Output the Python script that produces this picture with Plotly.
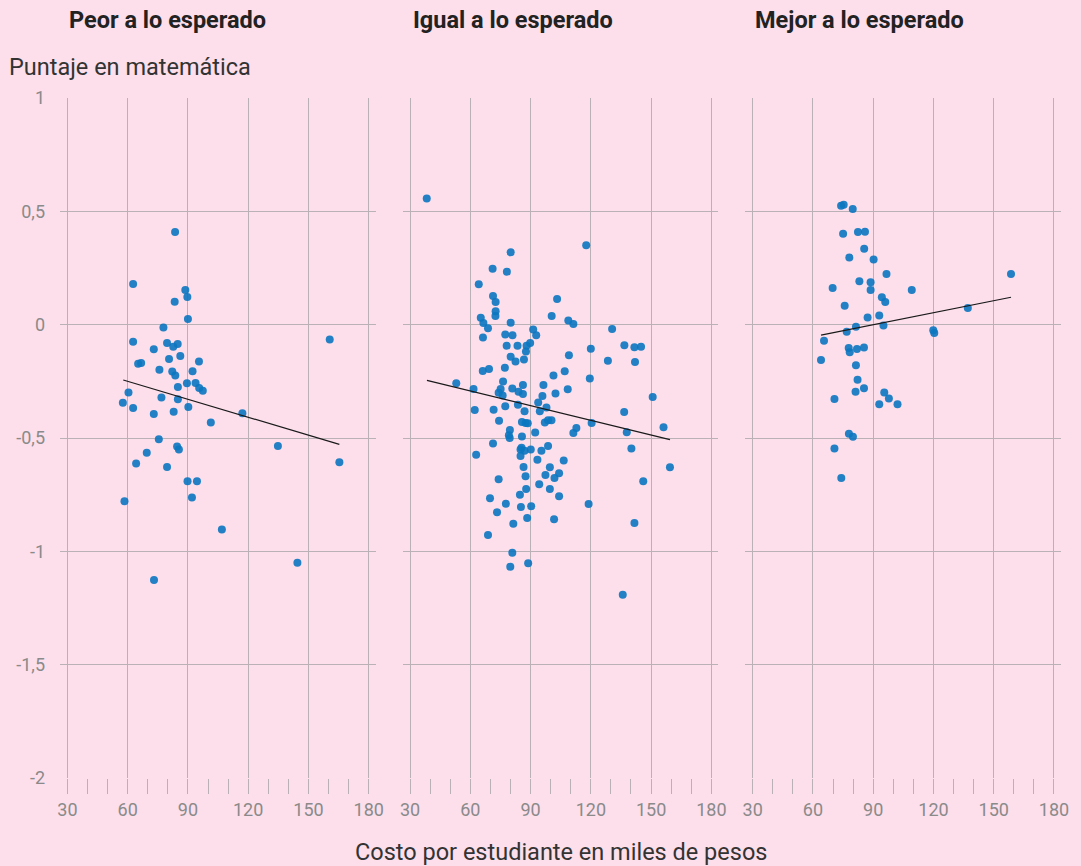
import plotly.graph_objects as go

# Panel titles
panel_titles = ["Peor a lo esperado", "Igual a lo esperado", "Mejor a lo esperado"]

# Peor a lo esperado
peor_x = [83.6, 62.7, 88.7, 89.7, 83.4, 90.0, 77.8, 62.7, 79.6, 84.9, 82.7, 73.0, 86.2,
          80.6, 65.2, 66.7, 95.5, 75.8, 82.2, 83.7, 92.3, 89.5, 93.8, 95.6, 97.4, 85.0,
          60.4, 57.6, 62.7, 76.8, 85.0, 90.2, 73.0, 82.9, 117.1, 101.4, 75.5, 84.6, 85.5,
          69.5, 134.8, 64.2, 79.6, 89.8, 94.5, 92.0, 58.4, 106.9, 144.5, 73.1, 160.6, 165.4]
peor_y = [0.409, 0.179, 0.153, 0.122, 0.101, 0.025, -0.012, -0.075, -0.081, -0.085, -0.097,
          -0.109, -0.138, -0.151, -0.172, -0.169, -0.163, -0.199, -0.207, -0.224, -0.206,
          -0.259, -0.257, -0.279, -0.291, -0.275, -0.299, -0.344, -0.368, -0.321, -0.329,
          -0.363, -0.394, -0.384, -0.391, -0.432, -0.506, -0.537, -0.551, -0.565, -0.535,
          -0.612, -0.628, -0.691, -0.691, -0.762, -0.779, -0.904, -1.050, -1.126, -0.065, -0.607]
peor_trend_x = [57.8, 165.4]
peor_trend_y = [-0.244, -0.528]

# Igual a lo esperado
igual_x = [38.3, 117.7, 80.1, 71.1, 78.2, 64.2, 71.3, 72.6, 103.2, 72.6, 72.5, 65.2, 66.5,
           100.5, 108.8, 111.3, 80.1, 68.8, 91.3, 130.6, 66.3, 77.4, 81.0, 92.8, 78.1, 83.5,
           88.0, 89.8, 87.7, 136.7, 141.7, 145.0, 120.0, 80.1, 82.5, 86.7, 109.1, 128.5,
           142.0, 66.2, 69.3, 77.2, 107.0, 101.4, 119.5, 53.0, 61.6, 76.3, 75.1, 74.1, 76.1,
           80.9, 86.2, 84.0, 86.2, 96.4, 95.9, 102.4, 108.5, 150.8, 62.2, 71.6, 77.4, 83.7,
           87.0, 93.8, 94.6, 97.9, 136.6, 74.3, 85.7, 88.6, 87.5, 97.1, 98.7, 100.4, 120.4,
           112.8, 111.3, 137.9, 156.2, 79.7, 79.2, 79.6, 85.7, 92.3, 71.3, 62.9, 85.0, 85.5,
           87.0, 85.0, 90.1, 95.4, 98.7, 93.4, 140.2, 106.5, 86.5, 99.6, 97.4, 101.9, 104.2,
           87.5, 74.1, 159.4, 146.1, 87.8, 94.3, 99.6, 84.7, 69.8, 77.7, 85.2, 90.3, 104.2,
           73.3, 118.9, 88.3, 101.7, 141.7, 81.4, 68.8, 80.9, 79.9, 88.8, 135.9]
igual_y = [0.557, 0.350, 0.319, 0.247, 0.234, 0.178, 0.126, 0.100, 0.113, 0.059, 0.038,
           0.031, 0.007, 0.038, 0.018, 0.003, 0.009, -0.016, -0.021, -0.019, -0.057, -0.043,
           -0.047, -0.047, -0.093, -0.093, -0.093, -0.081, -0.118, -0.091, -0.100, -0.097,
           -0.106, -0.141, -0.162, -0.154, -0.135, -0.159, -0.165, -0.204, -0.196, -0.190,
           -0.206, -0.224, -0.238, -0.259, -0.284, -0.251, -0.284, -0.300, -0.312, -0.282,
           -0.266, -0.296, -0.306, -0.266, -0.315, -0.304, -0.285, -0.319, -0.376, -0.375,
           -0.360, -0.353, -0.382, -0.343, -0.382, -0.365, -0.385, -0.424, -0.429, -0.435,
           -0.434, -0.432, -0.422, -0.422, -0.434, -0.456, -0.478, -0.475, -0.453, -0.465,
           -0.488, -0.500, -0.493, -0.476, -0.524, -0.574, -0.551, -0.543, -0.556, -0.579,
           -0.551, -0.556, -0.535, -0.596, -0.546, -0.599, -0.628, -0.629, -0.663, -0.676,
           -0.656, -0.669, -0.682, -0.629, -0.691, -0.725, -0.704, -0.725, -0.750, -0.766,
           -0.790, -0.804, -0.801, -0.757, -0.828, -0.791, -0.853, -0.859, -0.875, -0.878,
           -0.928, -1.006, -1.068, -1.053, -1.191]
igual_trend_x = [38.4, 159.4]
igual_trend_y = [-0.246, -0.507]

# Mejor a lo esperado
mejor_x = [74.0, 75.3, 79.8, 75.0, 82.4, 85.9, 85.5, 78.1, 90.2, 96.6, 158.6, 83.1, 88.7,
           69.8, 88.7, 109.2, 94.3, 96.0, 75.8, 137.1, 87.2, 93.0, 81.4, 95.1, 76.8, 119.9,
           120.4, 65.5, 77.8, 78.3, 81.9, 85.4, 64.0, 81.4, 82.2, 81.2, 85.4, 95.5, 70.7,
           97.8, 93.0, 102.1, 77.9, 79.9, 70.7, 74.1]
mejor_y = [0.525, 0.529, 0.510, 0.401, 0.409, 0.410, 0.335, 0.296, 0.287, 0.224, 0.224,
           0.191, 0.187, 0.162, 0.153, 0.153, 0.121, 0.100, 0.084, 0.074, 0.032, 0.040,
           -0.009, -0.004, -0.031, -0.025, -0.037, -0.071, -0.103, -0.122, -0.107, -0.101,
           -0.156, -0.179, -0.243, -0.296, -0.281, -0.299, -0.328, -0.326, -0.351, -0.351,
           -0.481, -0.494, -0.546, -0.676]
mejor_trend_x = [64.0, 158.6]
mejor_trend_y = [-0.046, 0.121]

# Axis ticks
x_ticks = [30, 60, 90, 120, 150, 180]
y_ticks = [1, 0.5, 0, -0.5, -1, -1.5, -2]
y_ticktext = ["1", "0,5", "0", "-0,5", "-1", "-1,5", "-2"]

panels = [
    (peor_x, peor_y, peor_trend_x, peor_trend_y),
    (igual_x, igual_y, igual_trend_x, igual_trend_y),
    (mejor_x, mejor_y, mejor_trend_x, mejor_trend_y),
]

bg = "#fcdfeb"
grid = "#b9b1b5"
font_family = "Roboto"

domains = [[0.0, 0.3154], [0.3423, 0.6577], [0.6846, 1.0]]

fig = go.Figure()

for i, (px_, py_, tx, ty) in enumerate(panels):
    xa = "x" if i == 0 else f"x{i+1}"
    ya = "y" if i == 0 else f"y{i+1}"
    fig.add_trace(go.Scatter(
        x=px_, y=py_, mode="markers", xaxis=xa, yaxis=ya,
        marker=dict(size=8, color="#0b76c0", opacity=0.9, line=dict(width=0)),
        showlegend=False, hoverinfo="x+y",
    ))
    fig.add_trace(go.Scatter(
        x=tx, y=ty, mode="lines", xaxis=xa, yaxis=ya,
        line=dict(color="#1a1a1a", width=1.2),
        showlegend=False, hoverinfo="skip",
    ))

layout = dict(
    width=1081, height=866,
    paper_bgcolor=bg, plot_bgcolor=bg,
    font=dict(family=font_family, color="#333333"),
    margin=dict(l=60, r=16, t=98, b=88),
    showlegend=False,
)

for i in range(3):
    xkey = "xaxis" if i == 0 else f"xaxis{i+1}"
    ykey = "yaxis" if i == 0 else f"yaxis{i+1}"
    layout[xkey] = dict(
        domain=domains[i], range=[26.3, 183.5],
        tickvals=x_ticks, showgrid=True, gridcolor=grid, gridwidth=1,
        zeroline=False, showline=False,
        ticks="outside", ticklen=15, tickcolor=grid, tickwidth=1,
        minor=dict(dtick=10, tick0=30, ticks="outside", ticklen=15,
                   tickcolor=grid, tickwidth=1, showgrid=False),
        tickfont=dict(size=18, color="#8a8a8a"),
        anchor="y" if i == 0 else f"y{i+1}",
    )
    layout[ykey] = dict(
        domain=[0, 1], range=[-2, 1],
        tickvals=y_ticks, ticktext=y_ticktext,
        showticklabels=(i == 0),
        showgrid=True, gridcolor=grid, gridwidth=1,
        zeroline=False, showline=False, ticks="",
        ticklabelstandoff=14,
        tickfont=dict(size=18, color="#8a8a8a"),
        anchor="x" if i == 0 else f"x{i+1}",
    )

fig.update_layout(**layout)

title_x = [67, 412, 756]
for t, xp in zip(panel_titles, title_x):
    fig.add_annotation(
        text=f"<b>{t}</b>", xref="paper", yref="paper",
        x=(xp - 60) / 1005, y=(866 - 20 - 88) / 680,
        xanchor="left", yanchor="middle", showarrow=False,
        font=dict(size=23.5, color="#222222", family=font_family),
    )

fig.add_annotation(
    text="Puntaje en matemática", xref="paper", yref="paper",
    x=(7 - 60) / 1005, y=(866 - 67 - 88) / 680,
    xanchor="left", yanchor="middle", showarrow=False,
    font=dict(size=23.5, color="#333333", family=font_family),
)

fig.add_annotation(
    text="Costo por estudiante en miles de pesos", xref="paper", yref="paper",
    x=0.5, y=(866 - 852 - 88) / 680,
    xanchor="center", yanchor="middle", showarrow=False,
    font=dict(size=23.5, color="#333333", family=font_family),
)

fig.write_html("out.html", config={"displayModeBar": False},
               post_script="document.body.style.margin='0px';")
